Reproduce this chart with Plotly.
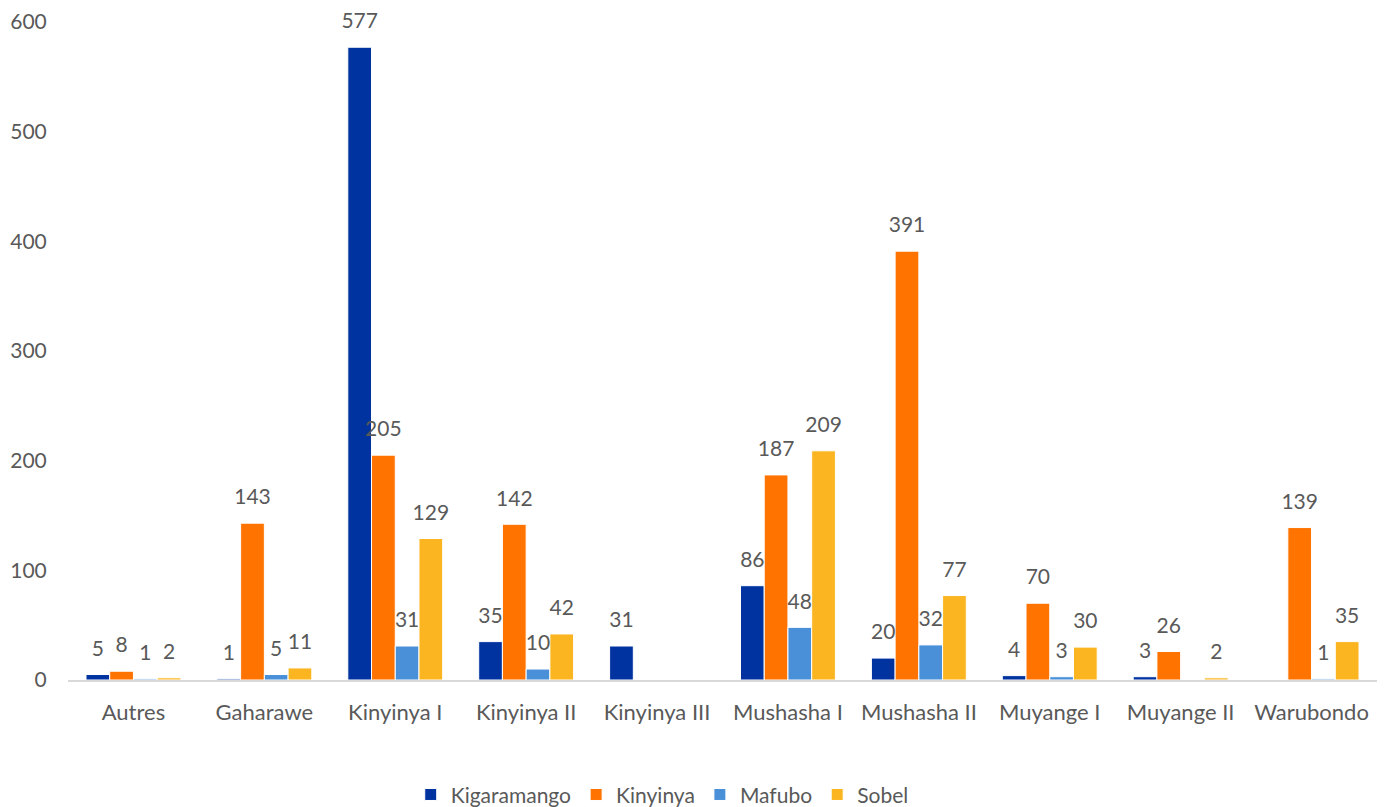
import plotly.graph_objects as go

categories = ['Autres', 'Gaharawe', 'Kinyinya I', 'Kinyinya II', 'Kinyinya III',
              'Mushasha I', 'Mushasha II', 'Muyange I', 'Muyange II', 'Warubondo']

kigaramango = [5, 1, 577, 35, 31, 86, 20, 4, 3, None]
kinyinya = [8, 143, 205, 142, None, 187, 391, 70, 26, 139]
mafubo = [1, 5, 31, 10, None, 48, 32, 3, None, 1]
sobel = [2, 11, 129, 42, None, 209, 77, 30, 2, 35]

series = [
    ('Kigaramango', kigaramango, '#0033A0'),
    ('Kinyinya', kinyinya, '#FF7300'),
    ('Mafubo', mafubo, '#4A90D9'),
    ('Sobel', sobel, '#FBB520'),
]

font_family = 'Lato, Open Sans, sans-serif'
text_color = '#595959'

fig = go.Figure()
for name, values, color in series:
    fig.add_trace(go.Bar(
        x=categories,
        y=values,
        name=name,
        offsetgroup=name,
        marker=dict(color=color, line=dict(color='white', width=1)),
        hoverinfo='x+y+name',
    ))

# value labels, lifted a little above the bars like the original
for name, values, color in series:
    fig.add_trace(go.Scatter(
        x=categories,
        y=values,
        offsetgroup=name,
        mode='markers+text',
        marker=dict(size=20, opacity=0),
        text=[str(v) if v is not None else '' for v in values],
        textposition='top center',
        textfont=dict(size=21, color=text_color, family=font_family),
        cliponaxis=False,
        showlegend=False,
        hoverinfo='skip',
    ))

fig.update_layout(
    width=1389,
    height=807,
    barmode='group',
    scattermode='group',
    bargap=0.275,
    bargroupgap=0,
    plot_bgcolor='white',
    paper_bgcolor='white',
    margin=dict(l=60, r=20, t=14, b=135),
    font=dict(family=font_family, size=21, color=text_color),
    xaxis=dict(
        showline=True, linecolor='#D9D9D9', linewidth=2,
        ticks='outside', ticklen=12, tickcolor='rgba(0,0,0,0)',
        tickfont=dict(size=22, color=text_color), automargin=False,
    ),
    yaxis=dict(
        range=[0, 600], dtick=100, showgrid=False, zeroline=False,
        showline=False, ticks='outside', ticklen=16, tickcolor='rgba(0,0,0,0)',
        tickfont=dict(size=21, color=text_color), automargin=False,
    ),
    legend=dict(
        orientation='h', xref='container', x=0.471, xanchor='center',
        yref='container', y=0.025, yanchor='middle',
        font=dict(size=21, color=text_color),
        itemwidth=30, tracegroupgap=0,
    ),
)

fig.write_html("out.html")
